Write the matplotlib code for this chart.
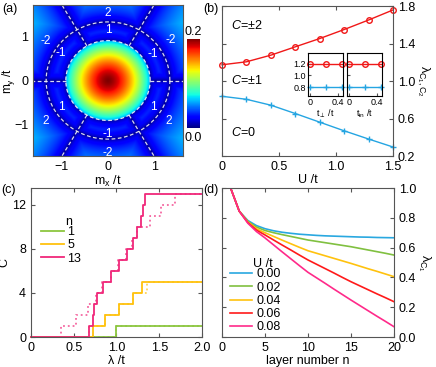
import numpy as np
import matplotlib.pyplot as plt

plt.rcParams['font.family'] = ['Liberation Sans', 'DejaVu Sans']
plt.rcParams['mathtext.fontset'] = 'custom'
plt.rcParams['mathtext.rm'] = 'Liberation Sans'
plt.rcParams['mathtext.it'] = 'Liberation Sans:italic'
plt.rcParams['font.size'] = 9
plt.rcParams['xtick.direction'] = 'in'
plt.rcParams['ytick.direction'] = 'in'
plt.rcParams['axes.edgecolor'] = '#555555'
plt.rcParams['xtick.color'] = '#555555'
plt.rcParams['ytick.color'] = '#555555'
plt.rcParams['xtick.labelcolor'] = 'black'
plt.rcParams['ytick.labelcolor'] = 'black'
plt.rcParams['xtick.major.size'] = 3
plt.rcParams['ytick.major.size'] = 3

# (a) gap map in the (mx, my) plane
gap_max = 0.2
gap_edge = 0.06
out_scale = 0.07
r_inner = 0.9
r_outer = 1.32
ray_angles = [0, 60, 120, 180, 240, 300]
chern_text = ['2', '1', '-2', '-1', '-1', '-2', '1', '2', '1', '2', '-1', '-2']
chern_x = [0, 0, -1.32, -1.0, 0.96, 1.34, -1.0, -1.32, 0.96, 1.3, 0, 0]
chern_y = [1.52, 1.14, 0.89, 0.61, 0.6, 0.91, -0.59, -0.91, -0.59, -0.91, -1.21, -1.63]

# (b) lambda vs U
U = [0, 0.214, 0.429, 0.643, 0.857, 1.071, 1.286, 1.5]
lam_c2 = [1.173, 1.205, 1.276, 1.365, 1.453, 1.549, 1.651, 1.758]
lam_c1 = [0.837, 0.805, 0.742, 0.653, 0.561, 0.469, 0.381, 0.296]
t_in = [0, 0.23, 0.46]
inset_c2 = [1.2, 1.2, 1.2]
inset_c1 = [0.8, 0.8, 0.8]

# (c) Chern number steps: lambda where C goes up by one
steps_n1 = [1.0]
steps_n5 = [0.72, 0.86, 1.035, 1.197, 1.30]
steps_n13 = [0.675, 0.725, 0.74, 0.776, 0.842, 0.94, 1.033, 1.12, 1.19, 1.244, 1.287, 1.31, 1.333]
steps_n1_dot = [1.0]
steps_n5_dot = [0.68, 0.86, 1.035, 1.197, 1.36]
steps_n13_dot = [0.35, 0.525, 0.665, 0.765, 0.835, 0.93, 1.02, 1.11, 1.18, 1.24, 1.39, 1.52, 1.684]

# (d) lambda_C1 vs layer number
layers = list(range(1, 21))
lam_u000 = [1.000, 0.845, 0.782, 0.748, 0.727, 0.713, 0.703, 0.696, 0.690, 0.686,
            0.682, 0.679, 0.677, 0.675, 0.673, 0.671, 0.670, 0.668, 0.667, 0.666]
lam_u002 = [1.000, 0.845, 0.776, 0.738, 0.715, 0.700, 0.687, 0.675, 0.663, 0.651,
            0.642, 0.633, 0.624, 0.615, 0.606, 0.595, 0.584, 0.573, 0.562, 0.550]
lam_u004 = [1.000, 0.845, 0.772, 0.727, 0.700, 0.675, 0.650, 0.626, 0.602, 0.579,
            0.562, 0.545, 0.528, 0.511, 0.494, 0.476, 0.458, 0.441, 0.423, 0.405]
lam_u006 = [1.000, 0.845, 0.768, 0.718, 0.685, 0.651, 0.617, 0.584, 0.550, 0.517,
            0.488, 0.459, 0.430, 0.400, 0.371, 0.344, 0.317, 0.290, 0.264, 0.237]
lam_u008 = [1.000, 0.845, 0.764, 0.708, 0.665, 0.618, 0.571, 0.525, 0.479, 0.434,
            0.397, 0.360, 0.322, 0.285, 0.248, 0.212, 0.176, 0.140, 0.105, 0.069]
u_labels = ['0.00', '0.02', '0.04', '0.06', '0.08']
u_colors = ['#29a8e0', '#80c040', '#ffc20e', '#ff1a1a', '#ff2a8a']

red = '#f01818'
blue = '#25a5e2'
green = '#8cc63f'
yellow = '#ffc20e'
pink = '#f0287a'

fig = plt.figure(figsize=(4.36, 3.67), dpi=100)

# ---------- (a) ----------
ax = fig.add_axes([0.0757, 0.5749, 0.344, 0.4114])
mx = np.linspace(-1.6, 1.6, 400)
my = np.linspace(-1.7, 1.7, 400)
X, Y = np.meshgrid(mx, my)
R = np.hypot(X, Y)
d = np.minimum(np.abs(R - r_inner), np.abs(R - r_outer))
for a in np.deg2rad(ray_angles):
    proj = X * np.cos(a) + Y * np.sin(a)
    perp = np.abs(-X * np.sin(a) + Y * np.cos(a))
    d = np.minimum(d, np.where(proj > 0, perp, R))
gap = np.where(R < r_inner,
               gap_max - (gap_max - gap_edge) * (R / r_inner) ** 1.5,
               out_scale * np.sqrt(d))
im = ax.imshow(gap, extent=[-1.6, 1.6, -1.7, 1.7], origin='lower', cmap='jet',
               vmin=0, vmax=0.2, aspect='auto', interpolation='bilinear')
th = np.linspace(0, 2 * np.pi, 300)
for r in [r_inner, r_outer]:
    ax.plot(r * np.cos(th), r * np.sin(th), color='white', ls=(0, (3, 2)), lw=0.9, alpha=0.85)
for a in np.deg2rad(ray_angles):
    ax.plot([r_inner * np.cos(a), 3 * np.cos(a)], [r_inner * np.sin(a), 3 * np.sin(a)],
            color='white', ls=(0, (3, 2)), lw=0.9, alpha=0.85)
for s, x, y in zip(chern_text, chern_x, chern_y):
    ax.text(x, y, s, color='white', ha='center', va='center', fontsize=8.5)
ax.set_xlim(-1.6, 1.6)
ax.set_ylim(-1.7, 1.7)
ax.set_xticks([-1, 0, 1])
ax.set_yticks([-1, 0, 1])
ax.tick_params(length=0)
ax.set_xlabel(r'm$_\mathrm{x}$ /t', labelpad=1)
ax.set_ylabel(r'm$_\mathrm{y}$ /t', fontsize=8.5)
ax.yaxis.set_label_coords(-0.105, 0.5)

cax = fig.add_axes([0.4289, 0.6512, 0.0298, 0.2425])
cb = fig.colorbar(im, cax=cax, ticks=[])
cb.outline.set_linewidth(0)
fig.text(0.4289 + 0.0149, 1 - 32 / 367, '0.2', ha='center', va='center')
fig.text(0.4289 + 0.0149, 1 - 138 / 367, '0.0', ha='center', va='center')

# ---------- (b) ----------
ax = fig.add_axes([0.5092, 0.5749, 0.3922, 0.4087])
ax.plot(U, lam_c2, color=red, lw=1, marker='o', mfc='none', ms=4, mew=1, clip_on=False)
ax.plot(U, lam_c1, color=blue, lw=1, marker='+', ms=5, mew=1, clip_on=False)
ax.set_xlim(0, 1.5)
ax.set_ylim(0.2, 1.8)
ax.set_xticks([0, 0.5, 1.0, 1.5])
ax.set_xticklabels(['0', '0.5', '1.0', '1.5'])
ax.set_yticks([0.2, 0.6, 1.0, 1.4, 1.8])
ax.yaxis.tick_right()
ax.tick_params(top=True, left=True, right=True)
ax.yaxis.set_label_position('right')
ax.set_xlabel('U /t', labelpad=1)
ax.set_ylabel(r'λ$_{\mathrm{C}_1,\mathrm{C}_2}$', rotation=-90, labelpad=12)
ax.text(0.08, 1.597, '$C$=±2', ha='left', va='center')
ax.text(0.08, 1.01, '$C$=±1', ha='left', va='center')
ax.text(0.08, 0.456, '$C$=0', ha='left', va='center')

for i, (lx, lab) in enumerate([(0.7064, r't$_\perp$ /t'), (0.7959, r't$_\mathrm{in}$ /t')]):
    ins = fig.add_axes([lx, 0.7384, 0.0803, 0.1172])
    ins.plot(t_in, inset_c2, color=red, lw=1, marker='o', mfc='none', ms=4, mew=1, clip_on=False)
    ins.plot(t_in, inset_c1, color=blue, lw=1, marker='+', ms=5, mew=1, clip_on=False)
    ins.set_xlim(-0.03, 0.48)
    ins.set_ylim(0.65, 1.38)
    ins.set_xticks([0, 0.4])
    ins.set_xticklabels(['0', '0.4'])
    ins.set_yticks([0.8, 1.0, 1.2])
    ins.tick_params(labelsize=6.5, length=2, pad=1.5)
    ins.spines[:].set_color('black')
    if i == 1:
        ins.set_yticklabels([])
    ins.set_xlabel(lab, fontsize=6.5, labelpad=0)

# ---------- (c) ----------
ax = fig.add_axes([0.0711, 0.0817, 0.3922, 0.406])


def staircase(steps):
    xs = [0] + steps + [2.0]
    ys = list(range(len(steps) + 1)) + [len(steps)]
    return xs, ys


for steps, col in [(steps_n1_dot, green), (steps_n5_dot, yellow), (steps_n13_dot, pink)]:
    xs, ys = staircase(steps)
    ax.plot(xs, ys, drawstyle='steps-post', color=col, lw=1.3, ls=':', alpha=0.7, clip_on=False)
for steps, col, lab in [(steps_n1, green, '1'), (steps_n5, yellow, '5'), (steps_n13, pink, '13')]:
    xs, ys = staircase(steps)
    ax.plot(xs, ys, drawstyle='steps-post', color=col, lw=1.3, label=lab, clip_on=False)
ax.set_xlim(0, 2.0)
ax.set_ylim(0, 13.5)
ax.set_xticks([0, 0.5, 1.0, 1.5, 2.0])
ax.set_xticklabels(['0', '0.5', '1.0', '1.5', '2.0'])
ax.set_yticks([0, 4, 8, 12])
ax.tick_params(top=True, right=True)
ax.set_xlabel('λ /t', labelpad=1)
ax.set_ylabel('C')
ax.yaxis.set_label_coords(-0.12, 0.5)
ax.legend(loc='upper left', bbox_to_anchor=(0.06, 0.745), frameon=False, borderpad=0,
          handlelength=1.8, handletextpad=0.3, labelspacing=0.1, borderaxespad=0)
ax.text(0.199, 0.774, 'n', transform=ax.transAxes, ha='left', va='center')

# ---------- (d) ----------
ax = fig.add_axes([0.5092, 0.0817, 0.3945, 0.406])
for vals, col, lab in zip([lam_u000, lam_u002, lam_u004, lam_u006, lam_u008], u_colors, u_labels):
    ax.plot(layers, vals, color=col, lw=1.2, label=lab)
ax.set_xlim(0, 20)
ax.set_ylim(0, 1.0)
ax.set_xticks([0, 5, 10, 15, 20])
ax.set_yticks([0, 0.2, 0.4, 0.6, 0.8, 1.0])
ax.set_yticklabels(['0.0', '0.2', '0.4', '0.6', '0.8', '1.0'])
ax.yaxis.tick_right()
ax.tick_params(top=True, left=True, right=True)
ax.yaxis.set_label_position('right')
ax.set_xlabel('layer number n', labelpad=1)
ax.set_ylabel(r'λ$_{\mathrm{C}_1}$', rotation=-90, labelpad=12)
ax.legend(loc='upper left', bbox_to_anchor=(0.045, 0.46), frameon=False, borderpad=0,
          handlelength=1.8, handletextpad=0.3, labelspacing=0.1, borderaxespad=0)
ax.text(0.18, 0.49, 'U /t', transform=ax.transAxes, ha='left', va='center')

# panel labels
fig.text(2 / 436, 1 - 9 / 367, '(a)', va='center')
fig.text(203 / 436, 1 - 9 / 367, '(b)', va='center')
fig.text(1 / 436, 1 - 190 / 367, '(c)', va='center')
fig.text(203 / 436, 1 - 190 / 367, '(d)', va='center')

fig.savefig('out.png', dpi=100)
